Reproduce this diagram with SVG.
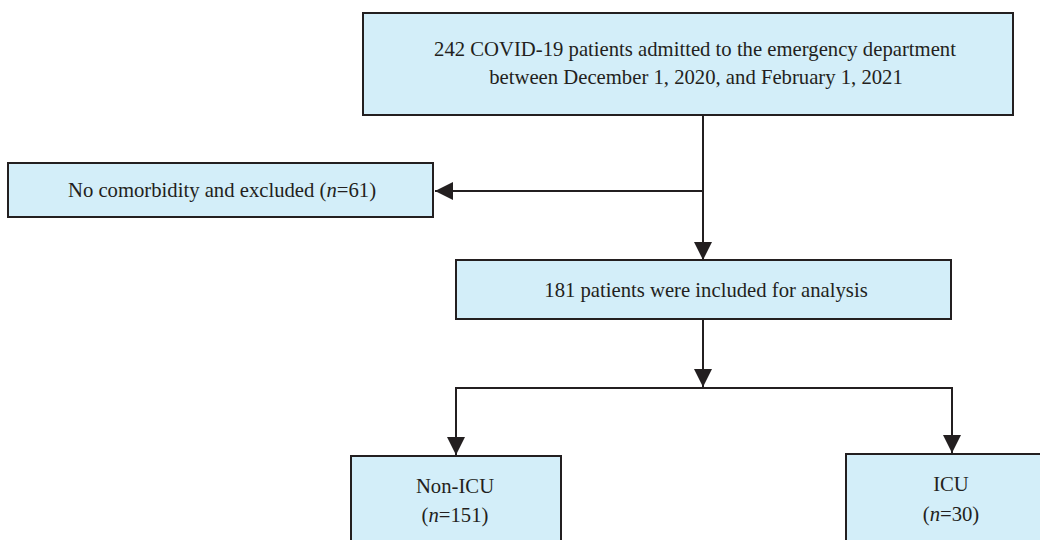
<svg xmlns="http://www.w3.org/2000/svg" width="1040" height="540" viewBox="0 0 1040 540">
<defs>
<style>
.box{fill:#d3eef9;stroke:#231f20;stroke-width:2}
.t{font-family:"Liberation Serif","Times New Roman",serif;font-size:20.7px;fill:#231f20;text-anchor:middle}
.ln{fill:none;stroke:#231f20;stroke-width:2}
</style>
<marker id="ah" viewBox="0 0 18 18" markerWidth="18" markerHeight="18" refX="18" refY="9" orient="auto" markerUnits="userSpaceOnUse">
<path d="M0,0 L18,9 L0,18 Z" fill="#231f20"/>
</marker>
</defs>
<rect width="1040" height="540" fill="#ffffff"/>
<g id="connectors">
<line class="ln" x1="703" y1="115" x2="703" y2="260" marker-end="url(#ah)"/>
<line class="ln" x1="703" y1="191" x2="435" y2="191" marker-end="url(#ah)"/>
<line class="ln" x1="703" y1="319" x2="703" y2="387" marker-end="url(#ah)"/>
<polyline class="ln" points="456,454 456,388 952,388 952,452"/>
<line class="ln" x1="456" y1="400" x2="456" y2="455" marker-end="url(#ah)"/>
<line class="ln" x1="952" y1="400" x2="952" y2="453" marker-end="url(#ah)"/>
</g>
<g id="n_total">
<rect class="box" x="363" y="13" width="650" height="102"/>
<text class="t" x="695" y="56">242 COVID-19 patients admitted to the emergency department</text>
<text class="t" x="696" y="84">between December 1, 2020, and February 1, 2021</text>
</g>
<g id="n_excluded">
<rect class="box" x="8" y="163" width="425" height="54"/>
<text class="t" x="222" y="197">No comorbidity and excluded (<tspan font-style="italic">n</tspan>=61)</text>
</g>
<g id="n_included">
<rect class="box" x="456" y="260" width="495" height="59"/>
<text class="t" x="706" y="297">181 patients were included for analysis</text>
</g>
<g id="n_nonicu">
<rect class="box" x="351" y="456" width="210" height="110"/>
<text class="t" x="455" y="493">Non-ICU</text>
<text class="t" x="455" y="522">(<tspan font-style="italic">n</tspan>=151)</text>
</g>
<g id="n_icu">
<rect class="box" x="846" y="454" width="212" height="110"/>
<text class="t" x="951" y="491">ICU</text>
<text class="t" x="951" y="521">(<tspan font-style="italic">n</tspan>=30)</text>
</g>
</svg>
